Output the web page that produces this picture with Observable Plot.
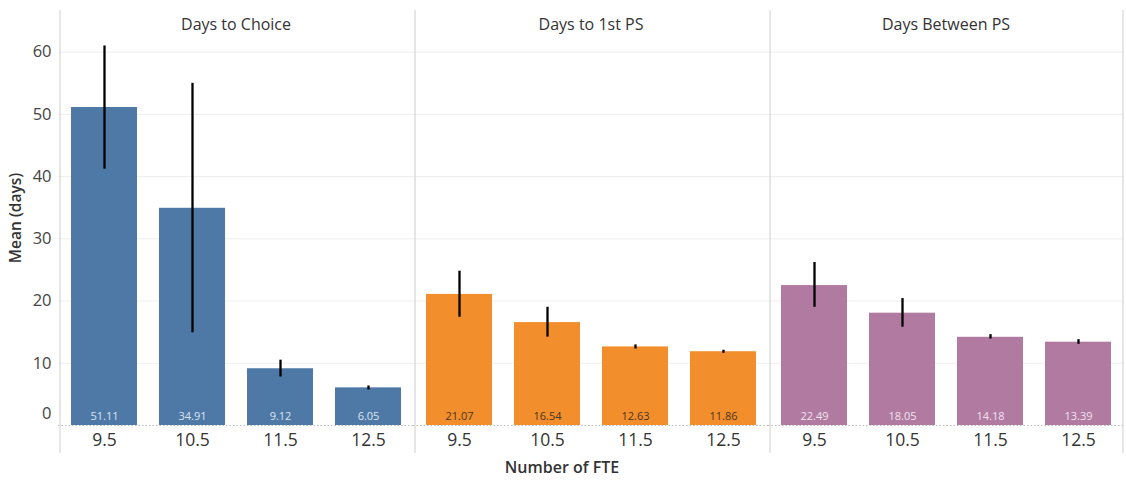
<!DOCTYPE html>
<html>
<head>
<meta charset="utf-8">
<script src="https://cdn.jsdelivr.net/npm/d3@7"></script>
<script src="https://cdn.jsdelivr.net/npm/@observablehq/plot@0.6"></script>
<style>
  html, body { margin: 0; padding: 0; background: #fff; }
  #chart { width: 1126px; height: 483px; }
</style>
</head>
<body>
<div id="chart"></div>
<script>
// ---- data ----
const metrics = ["Days to Choice", "Days to 1st PS", "Days Between PS"];
const ftes = ["9.5", "10.5", "11.5", "12.5"];

const choiceMean  = [51.11, 34.91, 9.12, 6.05];
const choiceLow   = [41.2, 14.9, 7.8, 5.7];
const choiceHigh  = [61.0, 55.0, 10.5, 6.35];

const firstPsMean = [21.07, 16.54, 12.63, 11.86];
const firstPsLow  = [17.4, 14.2, 12.3, 11.6];
const firstPsHigh = [24.8, 19.0, 12.95, 12.1];

const betweenMean = [22.49, 18.05, 14.18, 13.39];
const betweenLow  = [19.0, 15.8, 13.9, 13.05];
const betweenHigh = [26.2, 20.4, 14.6, 13.8];

const yTicks = [10, 20, 30, 40, 50, 60];
const yLabel = "Mean (days)";
const xLabel = "Number of FTE";

// ---- build table ----
const series = [
  [choiceMean, choiceLow, choiceHigh],
  [firstPsMean, firstPsLow, firstPsHigh],
  [betweenMean, betweenLow, betweenHigh]
];
const rows = [];
metrics.forEach((m, i) => {
  ftes.forEach((f, j) => {
    rows.push({metric: m, fte: f, mean: series[i][0][j], lo: series[i][1][j], hi: series[i][2][j]});
  });
});

const colors = {"Days to Choice": "#4e79a7", "Days to 1st PS": "#f28e2b", "Days Between PS": "#b07aa1"};
const labelColors = {"Days to Choice": "#dde4ee", "Days to 1st PS": "#4a3520", "Days Between PS": "#f1e3ee"};

const W = 1126, H = 483, ML = 57, MR = 2;
const facetW = (W - ML - MR) / metrics.length;
const step = facetW / (ftes.length - 0.25 + 0.25);

const font = "'Open Sans', 'Noto Sans', sans-serif";

const chart = Plot.plot({
  width: W,
  height: H,
  marginLeft: ML,
  marginRight: MR,
  marginTop: 10,
  marginBottom: 58,
  style: {fontFamily: font, background: "#fff", color: "#333"},
  fx: {domain: metrics, padding: 0, axis: null},
  x: {domain: ftes, paddingInner: 0.25, paddingOuter: 0.125, axis: null},
  y: {domain: [0, 66.7], axis: null},
  marks: [
    Plot.gridY(yTicks, {stroke: "#eeeeee", strokeOpacity: 1, strokeWidth: 1}),
    Plot.ruleY([0], {stroke: "#bdbdbd", strokeDasharray: "1.5,2", strokeWidth: 1}),
    // facet dividers
    Plot.ruleX(metrics.map(m => ({metric: m, fte: ftes[0]})), {
      fx: "metric", x: "fte", dx: -step / 2, stroke: "#d6d6d6", strokeWidth: 1.2, insetBottom: -28
    }),
    Plot.ruleX([{metric: metrics[metrics.length - 1], fte: ftes[ftes.length - 1]}], {
      fx: "metric", x: "fte", dx: step / 2, stroke: "#d6d6d6", strokeWidth: 1.2, insetBottom: -28
    }),
    Plot.barY(rows, {fx: "metric", x: "fte", y: "mean", fill: d => colors[d.metric]}),
    Plot.ruleX(rows, {fx: "metric", x: "fte", y1: "lo", y2: "hi", stroke: "#000", strokeWidth: 2.3}),
    Plot.text(rows, {
      fx: "metric", x: "fte", y: 0, dy: -9, text: d => d.mean.toFixed(2),
      fill: d => labelColors[d.metric], fontSize: 11
    }),
    // facet headers
    Plot.text(metrics, {fx: d => d, frameAnchor: "top", dy: 8, text: d => d, fontSize: 16, fill: "#333"}),
    // y axis
    Plot.axisY(yTicks, {tickSize: 0, tickPadding: 7, fontSize: 16.5, label: null, color: "#444"}),
    Plot.axisY([0], {tickSize: 0, tickPadding: 7, fontSize: 16.5, label: null, dy: -12, color: "#444"}),
    Plot.text([yLabel], {
      fx: () => metrics[0], frameAnchor: "left", textAnchor: "middle", rotate: -90, dx: -42, text: d => d,
      fontSize: 15.5, fontWeight: 600, fill: "#333"
    }),
    // x axis
    Plot.axisX({tickSize: 0, tickPadding: 8, fontSize: 17.5, label: null, color: "#333"}),
    Plot.text([xLabel], {
      fx: () => metrics[1], frameAnchor: "bottom", dy: 47, dx: -29, text: d => d,
      fontSize: 16, fontWeight: 600, fill: "#333"
    })
  ]
});
document.getElementById("chart").append(chart);
</script>
</body>
</html>
